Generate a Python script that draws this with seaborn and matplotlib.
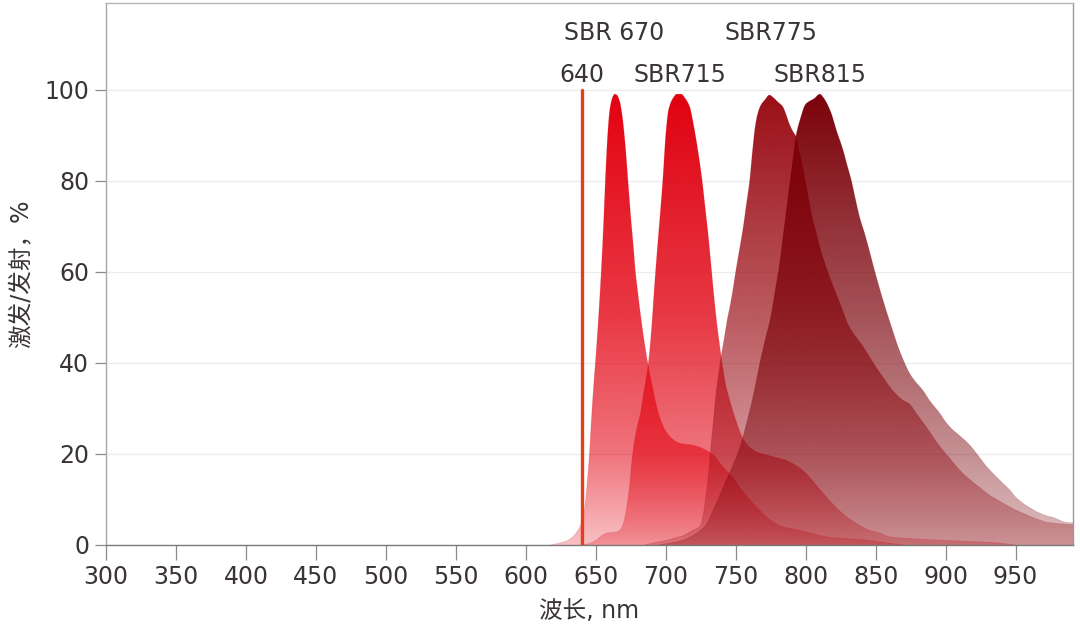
import numpy as np
import pandas as pd
import matplotlib
matplotlib.use("Agg")
import matplotlib.pyplot as plt
import seaborn as sns
from matplotlib.colors import to_rgb

# ---------------- data ----------------
sbr670_nm = [618, 624, 630, 634, 638, 640, 642, 644, 645.5, 647, 648.5, 650, 652, 654, 655.5,
             657, 658.5, 660, 662, 663.5, 665, 667, 669, 671, 673, 675, 677, 678, 680, 682,
             684, 686, 688, 690, 692, 694, 696, 698, 700, 704, 708, 712, 718, 724, 729, 734,
             740, 748, 754, 760, 766, 772, 778, 784, 790, 796, 805, 815, 830, 843, 855, 870]
sbr670_val = [0, 0.4, 1, 1.9, 3.6, 5, 8, 14, 20, 28, 35, 41, 50, 60.5, 70,
              81, 90, 95.5, 98.3, 99, 98.8, 97.5, 94, 88, 80, 72, 65, 61, 55.5, 50.5,
              46, 42, 38.5, 35.5, 32.5, 29.8, 27.7, 26.2, 25, 23.5, 22.6, 22.2, 22, 21.5, 20.8, 19.8,
              17.5, 14.8, 12.2, 10, 8, 6.2, 4.8, 4, 3.6, 3.2, 2.5, 1.8, 1.4, 1.1, 0.6, 0]

sbr715_nm = [640, 645, 650, 654, 658, 664, 668, 670, 672, 674, 676, 678, 680, 682, 684, 686,
             688, 690, 692, 694, 696, 698, 700, 702, 705, 708, 711, 714, 717, 720, 722, 724,
             726, 728, 730, 732.5, 734, 736, 738, 740, 743, 746, 750, 755, 760, 766, 772, 778,
             786, 793, 800, 808, 815, 820, 826, 831, 836, 845, 853, 860, 875, 893, 915, 936, 950]
sbr715_val = [0, 0.3, 1, 2, 2.6, 2.8, 3.5, 5, 8, 12.5, 19, 23.5, 26.5, 29, 33, 36.5,
              41, 48, 57, 65, 72.5, 80.5, 90, 95.5, 98, 99, 99, 98, 96.3, 92, 88.5, 84.5,
              80, 74.5, 69, 61, 56, 50, 45, 40.5, 35, 31.5, 27.5, 23.5, 21.5, 20.3, 19.8, 19.3,
              18.6, 17.5, 15.8, 13, 10.5, 8.8, 7, 5.8, 4.8, 3.3, 2.6, 1.8, 1.4, 1.1, 0.8, 0.5, 0]

sbr775_nm = [685, 692, 700, 706, 712, 718, 722, 724.7, 727, 729, 731, 732.5, 734, 736, 738,
             739.6, 742, 744, 746, 748, 750, 752.5, 755, 757.5, 760, 762, 764, 766, 768, 771,
             774, 777, 780, 783.5, 786, 788, 790.5, 793, 795.5, 798, 801, 804, 808, 812, 817,
             822, 824, 831, 841, 850, 856, 862, 869, 874, 880, 886, 895, 903, 912, 924, 932,
             941, 948, 955, 961, 967, 972, 977, 983, 991]
sbr775_val = [0, 0.5, 1, 1.5, 2, 3, 3.6, 4.2, 7, 11.4, 17, 22.4, 27, 33.4, 38,
              41.4, 45.7, 49.5, 52.5, 56, 60, 64.5, 69, 74.5, 80, 86.5, 92, 95, 96.6, 97.8,
              98.8, 98.2, 97.3, 96.3, 94.5, 92.7, 91, 89.7, 86.5, 83, 78, 73, 68, 63.5, 59,
              55, 53.5, 48, 43.6, 39.2, 36.5, 34, 31.9, 31, 28.5, 26, 22, 19, 15.8, 12.7, 10.8,
              9.2, 8, 7, 6.2, 5.5, 5, 4.8, 4.6, 4.4]

sbr815_nm = [695, 705, 712, 718, 724, 729, 733, 738, 743, 748, 752, 755, 758, 762, 765, 768,
             771, 775, 778, 781, 783.5, 786, 788.5, 790.6, 793, 796, 800, 803, 806, 810, 813.6,
             818, 822, 826.6, 829.5, 832.5, 835.5, 838.5, 842, 845.6, 849, 855, 862, 866, 870.6,
             874, 878, 883.6, 889, 895.6, 900, 905, 910, 917, 924, 929, 933.5, 940, 945.7, 950,
             955, 961, 967, 972, 977, 981, 985, 991]
sbr815_val = [0, 0.5, 1, 1.8, 3, 4.5, 7, 10.5, 14, 17.5, 20.5, 23.5, 27, 32, 36.5, 41,
              45, 50, 55.5, 61, 67, 73, 79, 84, 89.7, 93.4, 96.8, 97.5, 98, 99, 97.8,
              95, 91, 86.8, 83.5, 80.2, 76, 72, 68.5, 64.5, 60.5, 54, 47.2, 43.5, 40,
              37.8, 36, 34, 31.5, 29, 27, 25.3, 24, 22, 19.3, 17.3, 15.8, 13.8, 12.1, 10.5,
              9.2, 8, 7, 6.4, 6.0, 5.5, 5, 4.8]

series_names = ["SBR670", "SBR715", "SBR775", "SBR815"]
series_colors = ["#e3000f", "#e0000f", "#9a0c14", "#7a0008"]
series_nm = [sbr670_nm, sbr715_nm, sbr775_nm, sbr815_nm]
series_val = [sbr670_val, sbr715_val, sbr775_val, sbr815_val]

laser_nm = 640
laser_color = "#e2401c"

label_texts = ["SBR 670", "SBR775", "640", "SBR715", "SBR815"]
label_x = [663, 775, 640, 710, 810]
label_y = [112.4, 112.4, 103.1, 103.1, 103.1]

x_ticks = list(range(300, 951, 50))
y_ticks = list(range(0, 101, 20))


def smooth_path(x, y, per_seg=8):
    """Monotone cubic (PCHIP-style) drawing path through the read points."""
    x = np.asarray(x, float)
    y = np.asarray(y, float)
    h = np.diff(x)
    d = np.diff(y) / h
    m = np.zeros_like(y)
    for i in range(1, len(y) - 1):
        if d[i - 1] * d[i] > 0:
            w1 = 2 * h[i] + h[i - 1]
            w2 = h[i] + 2 * h[i - 1]
            m[i] = (w1 + w2) / (w1 / d[i - 1] + w2 / d[i])
    m[0] = d[0]
    m[-1] = d[-1]
    xs, ys = [], []
    for i in range(len(x) - 1):
        t = np.linspace(0, 1, per_seg, endpoint=False)
        h00 = 2 * t**3 - 3 * t**2 + 1
        h10 = t**3 - 2 * t**2 + t
        h01 = -2 * t**3 + 3 * t**2
        h11 = t**3 - t**2
        xs.append(x[i] + t * h[i])
        ys.append(h00 * y[i] + h10 * h[i] * m[i] + h01 * y[i + 1] + h11 * h[i] * m[i + 1])
    xs.append([x[-1]])
    ys.append([y[-1]])
    return np.concatenate(xs), np.clip(np.concatenate(ys), 0, None)


# ---------------- style ----------------
sns.set_theme(style="white")
plt.rcParams["font.family"] = ["DejaVu Sans", "Noto Sans CJK SC"]
text_color = "#3a3434"

fig = plt.figure(figsize=(10.8, 6.31), dpi=100)
ax = fig.add_axes([0.0981, 0.1363, 0.8954, 0.8589])

# gradient alpha profiles (bottom lighter, top opaque)
ng = 256
gy = np.linspace(0, 100, ng)
alpha_red = np.interp(gy, [0, 20, 50, 100], [0.25, 0.55, 0.78, 1.0])
alpha_dark = np.interp(gy, [0, 20, 50, 100], [0.25, 0.44, 0.68, 1.0])
series_alpha = [alpha_red, alpha_red, alpha_dark, alpha_dark]

for name, col, xr, yr, ga in zip(series_names, series_colors, series_nm, series_val, series_alpha):
    xs, ys = smooth_path(xr, yr)
    poly = ax.fill(np.r_[xs, xs[-1], xs[0]], np.r_[ys, 0, 0],
                   facecolor="none", edgecolor="none")[0]
    rgb = to_rgb(col)
    img = np.zeros((ng, 2, 4))
    img[:, :, 0] = rgb[0]
    img[:, :, 1] = rgb[1]
    img[:, :, 2] = rgb[2]
    img[:, :, 3] = ga[:, None]
    im = ax.imshow(img, extent=[xs.min(), xs.max(), 0, 100], origin="lower",
                   aspect="auto", interpolation="bilinear", zorder=2)
    im.set_clip_path(poly)
    df = pd.DataFrame({"nm": xs, "val": ys})
    sns.lineplot(data=df, x="nm", y="val", ax=ax, color=col, linewidth=0.6,
                 alpha=0.2, estimator=None, sort=False, zorder=3)

# laser line
laser_df = pd.DataFrame({"nm": [laser_nm, laser_nm], "val": [0, 100]})
sns.lineplot(data=laser_df, x="nm", y="val", ax=ax, color=laser_color, linewidth=2.4,
             estimator=None, sort=False, zorder=4)

for t, x, y in zip(label_texts, label_x, label_y):
    ax.text(x, y, t, ha="center", va="center", fontsize=17, color=text_color)

ax.set_xlim(300, 991)
ax.set_ylim(0, 119)
ax.set_xticks(x_ticks)
ax.set_yticks(y_ticks)
ax.tick_params(axis="x", bottom=True, length=11, width=0.9, color="#8a8a8a",
               pad=3.5, labelsize=17, labelcolor=text_color)
ax.tick_params(axis="y", left=True, length=8, width=0.9, color="#8a8a8a",
               pad=4, labelsize=17, labelcolor=text_color)
ax.yaxis.grid(True, color="#ececec", linewidth=0.9)
ax.xaxis.grid(False)
ax.set_axisbelow(True)

for side, c in [("left", "#a8a8a8"), ("bottom", "#7a7a7a"), ("top", "#b5b5b5"), ("right", "#9a9a9a")]:
    ax.spines[side].set_color(c)
    ax.spines[side].set_linewidth(1.0)
    ax.spines[side].set_visible(True)

ax.set_xlabel("波长, nm", fontsize=17, color=text_color, labelpad=7)
ax.set_ylabel("激发/发射，%", fontsize=17, color=text_color, labelpad=8)

fig.savefig("out.png", dpi=100)
